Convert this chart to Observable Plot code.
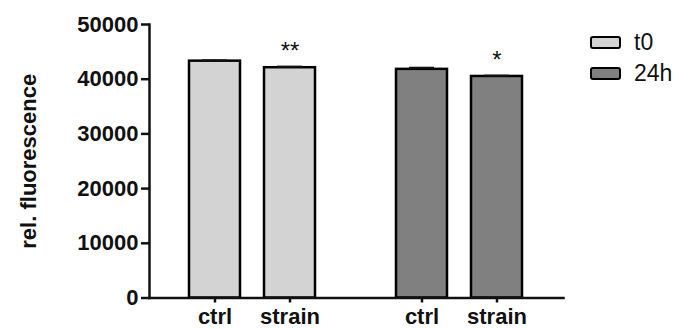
<!DOCTYPE html>
<html>
<head>
<meta charset="utf-8">
<script src="https://cdn.jsdelivr.net/npm/d3@7"></script>
<script src="https://cdn.jsdelivr.net/npm/@observablehq/plot@0.6"></script>
<style>
  html, body { margin: 0; padding: 0; background: white; }
  #wrap { position: relative; width: 674px; height: 329px; font-family: 'Liberation Sans', Arial, sans-serif; }
  #legend { position: absolute; left: 590px; top: 27px; }
  .item { display: flex; align-items: center; height: 30px; margin-bottom: 1px; }
  .sw { width: 27px; height: 9px; border: 2.5px solid #000; border-radius: 3px; margin-right: 13px; }
  .lab { font-size: 23px; color: #111; }
</style>
</head>
<body>
<div id="wrap"><div id="legend"></div></div>
<script>
const groups = ["t0", "24h"];
const conditions = ["ctrl", "strain"];
const fills = ["#d3d3d3", "#808080"];
const t0Values = [43300, 42100];
const h24Values = [41800, 40500];
const t0Errors = [150, 200];
const h24Errors = [300, 150];
const t0Sig = ["", "**"];
const h24Sig = ["", "*"];
const yTicks = [0, 10000, 20000, 30000, 40000, 50000];
const yLabel = "rel. fluorescence";

const data = [];
conditions.forEach((c, i) => data.push({time: "t0", cond: c, value: t0Values[i], err: t0Errors[i], sig: t0Sig[i]}));
conditions.forEach((c, i) => data.push({time: "24h", cond: c, value: h24Values[i], err: h24Errors[i], sig: h24Sig[i]}));

const chart = Plot.plot({
  width: 674,
  height: 329,
  marginTop: 24,
  marginBottom: 31.5,
  marginLeft: 148,
  marginRight: 111,
  style: {fontFamily: "'Liberation Sans', Arial, sans-serif", fontSize: "22px", fontWeight: "bold", color: "#111", background: "white"},
  fx: {domain: groups, paddingInner: 0, paddingOuter: 0, axis: null},
  x: {domain: conditions, paddingInner: 0.316, paddingOuter: 0.523},
  y: {domain: [0, 50000]},
  color: {domain: groups, range: fills},
  marks: [
    Plot.barY(data, {fx: "time", x: "cond", y: "value", fill: "time", stroke: "black", strokeWidth: 2.5}),
    Plot.ruleX(data, {fx: "time", x: "cond", y1: "value", y2: d => d.value + d.err, strokeWidth: 2}),
    Plot.tickY(data, {fx: "time", x: "cond", y: d => d.value + d.err, insetLeft: 13, insetRight: 13, strokeWidth: 2}),
    Plot.text(data.filter(d => d.sig), {fx: "time", x: "cond", y: d => d.value + d.err, text: "sig", lineAnchor: "bottom", dy: -8, fontSize: 24, fontWeight: "normal"}),
    Plot.frame({anchor: "bottom", facet: "super", strokeWidth: 2.5}),
    Plot.frame({anchor: "left", facet: "super", strokeWidth: 2.5}),
    Plot.axisX({tickSize: 5, tickPadding: 5, strokeWidth: 2.5, label: null}),
    Plot.axisY({ticks: yTicks, tickSize: 8, tickPadding: 3, strokeWidth: 2.5, tickFormat: d => String(d),
      label: yLabel, labelAnchor: "center", labelArrow: "none", labelOffset: 129})
  ]
});
document.getElementById("wrap").prepend(chart);

const legend = document.getElementById("legend");
groups.forEach((g, i) => {
  const item = document.createElement("div");
  item.className = "item";
  const sw = document.createElement("div");
  sw.className = "sw";
  sw.style.background = fills[i];
  const lab = document.createElement("span");
  lab.className = "lab";
  lab.textContent = g;
  item.append(sw, lab);
  legend.append(item);
});
</script>
</body>
</html>
